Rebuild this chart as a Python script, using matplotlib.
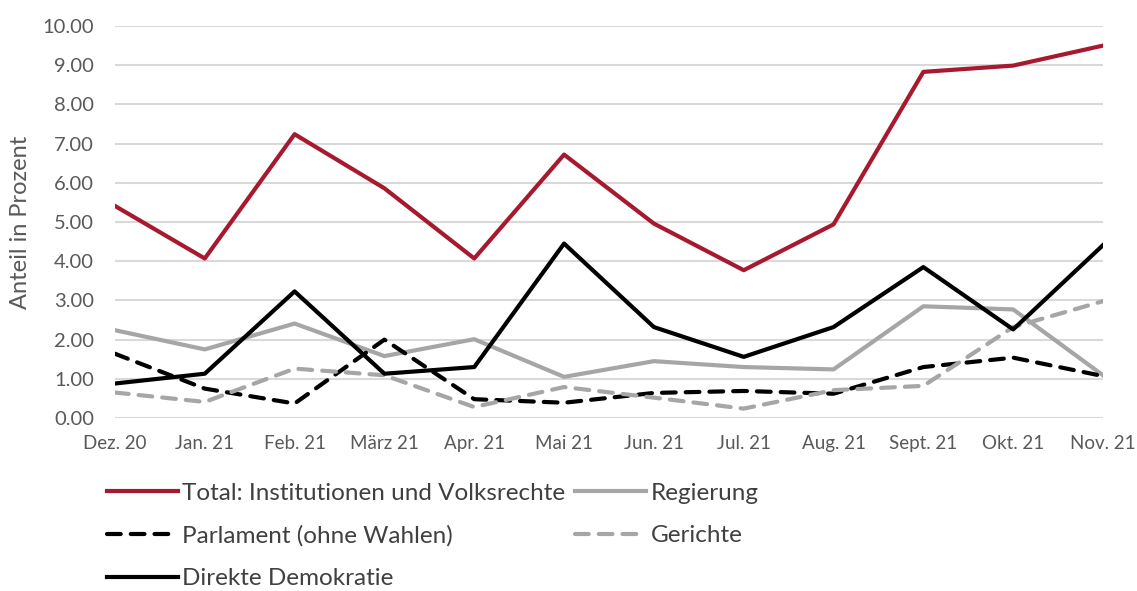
import matplotlib.pyplot as plt

months = ["Dez. 20", "Jan. 21", "Feb. 21", "März 21", "Apr. 21", "Mai 21",
          "Jun. 21", "Jul. 21", "Aug. 21", "Sept. 21", "Okt. 21", "Nov. 21"]

total = [5.41, 4.07, 7.24, 5.86, 4.07, 6.72, 4.96, 3.77, 4.94, 8.83, 8.99, 9.50]
regierung = [2.24, 1.75, 2.41, 1.58, 2.01, 1.05, 1.45, 1.30, 1.24, 2.85, 2.77, 1.09]
parlament = [1.64, 0.75, 0.37, 2.00, 0.48, 0.39, 0.64, 0.69, 0.62, 1.30, 1.54, 1.07]
gerichte = [0.65, 0.41, 1.26, 1.09, 0.28, 0.79, 0.52, 0.24, 0.71, 0.82, 2.32, 2.98]
direkte = [0.88, 1.13, 3.23, 1.13, 1.30, 4.45, 2.32, 1.56, 2.32, 3.85, 2.26, 4.41]

plt.rcParams['font.family'] = ['Lato', 'DejaVu Sans']

fig = plt.figure(figsize=(11.37, 5.91), dpi=100)
ax = fig.add_axes([0.1011, 0.2927, 0.869, 0.6633])

x = range(len(months))
lw = 3.0
dash = (0, (3.3, 2.4))
l_total, = ax.plot(x, total, color='#A6192E', lw=lw, label='Total: Institutionen und Volksrechte')
l_reg, = ax.plot(x, regierung, color='#A6A6A6', lw=lw, label='Regierung')
l_parl, = ax.plot(x, parlament, color='black', lw=lw, ls=dash, dash_capstyle='round', label='Parlament (ohne Wahlen)')
l_ger, = ax.plot(x, gerichte, color='#A6A6A6', lw=lw, ls=dash, dash_capstyle='round', label='Gerichte')
l_dir, = ax.plot(x, direkte, color='black', lw=lw, label='Direkte Demokratie')
# keep the red total and black lines on top
l_total.set_zorder(5)
l_dir.set_zorder(4)

ax.set_xlim(0, 11)
ax.set_ylim(0, 10)
ax.set_yticks(range(0, 11))
ax.set_yticklabels(["%.2f" % v for v in range(0, 11)])
ax.set_xticks(list(x))
ax.set_xticklabels(months)
ax.tick_params(axis='y', length=0, pad=15, labelsize=14.5, labelcolor='#595959')
ax.tick_params(axis='x', length=0, pad=12, labelsize=13.5, labelcolor='#595959')
for s in ax.spines.values():
    s.set_visible(False)
ax.grid(axis='y', color='#D9D9D9', lw=1.5)
ax.set_axisbelow(True)
ax.set_ylabel('Anteil in Prozent', fontsize=17, color='#595959', labelpad=8)

handles = [l_total, l_parl, l_dir, l_reg, l_ger]
fig.legend(handles=handles, labels=[h.get_label() for h in handles],
           ncol=2, loc='upper left', bbox_to_anchor=(0.075, 0.22),
           frameon=False, fontsize=17.5, handlelength=2.9, handletextpad=0.2,
           columnspacing=0.4, labelspacing=0.88, labelcolor='#404040')

fig.savefig('out.png', dpi=100)
